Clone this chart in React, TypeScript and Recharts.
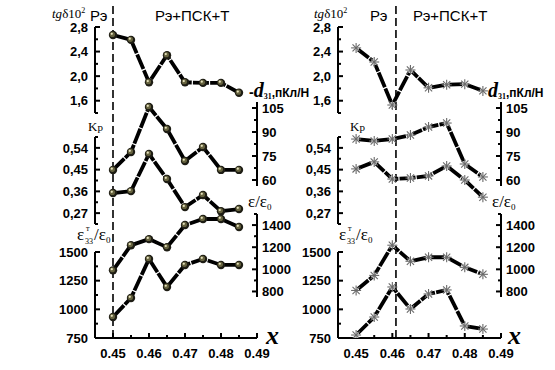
import React from 'react';
import { LineChart, Line, XAxis, YAxis, ReferenceLine } from 'recharts';

const W = 555;
const H = 370;

// x categories (composition x)
const xValues = [0.45, 0.455, 0.46, 0.465, 0.47, 0.475, 0.48, 0.485];
const xTicks = [0.45, 0.455, 0.46, 0.465, 0.47, 0.475, 0.48, 0.485, 0.49];
const xMajor = [0.45, 0.46, 0.47, 0.48, 0.49];

// left panel series (spheres)
const tgLeft = [2.67, 2.59, 1.9, 2.34, 1.9, 1.89, 1.89, 1.73];
const d31Left = [66.3, 77.5, 105.6, 91.9, 71.9, 80.6, 66.3, 66.3];
const kpLeft = [0.353, 0.361, 0.515, 0.411, 0.295, 0.345, 0.278, 0.287];
const epsLeft = [991, 1218, 1273, 1200, 1400, 1455, 1455, 1382];
const eps33Left = [933, 1099, 1439, 1195, 1387, 1439, 1387, 1387];

// right panel series (asterisks)
const tgRight = [2.46, 2.23, 1.53, 2.1, 1.81, 1.86, 1.87, 1.76];
const d31Right = [85.6, 84.4, 85.6, 88.1, 93.1, 95.6, 70.0, 61.9];
const kpRight = [0.453, 0.482, 0.411, 0.415, 0.424, 0.465, 0.407, 0.336];
const epsRight = [809, 945, 1218, 1073, 1109, 1109, 1018, 955];
const eps33Right = [776, 933, 1195, 1003, 1134, 1169, 855, 828];

// phase boundaries
const boundaryLeft = 0.45;
const boundaryRight = 0.461;

// axis ticks
const tgTicks = [1.4, 1.6, 1.8, 2.0, 2.2, 2.4, 2.6, 2.8];
const tgMajor = [1.6, 2.0, 2.4, 2.8];
const kpTicks = [0.225, 0.27, 0.315, 0.36, 0.405, 0.45, 0.495, 0.54, 0.585];
const kpMajor = [0.27, 0.36, 0.45, 0.54];
const d31Ticks = [60, 67.5, 75, 82.5, 90, 97.5, 105];
const d31Major = [60, 75, 90, 105];
const epsTicks = [800, 900, 1000, 1100, 1200, 1300, 1400, 1500];
const epsMajor = [800, 1000, 1200, 1400];
const eps33Ticks = [750, 875, 1000, 1125, 1250, 1375, 1500];
const eps33Major = [750, 1000, 1250, 1500];

const buildRows = (tg: number[], d31: number[], kp: number[], eps: number[], eps33: number[]) =>
  xValues.map((x, i) => ({ x, tg: tg[i], d31: d31[i], kp: kp[i], eps: eps[i], eps33: eps33[i], guide: 0.5 }));

const leftRows = buildRows(tgLeft, d31Left, kpLeft, epsLeft, eps33Left);
const rightRows = buildRows(tgRight, d31Right, kpRight, epsRight, eps33Right);

const AXW = 40;
const TM = 4;
const XH = 25;
const SANS = '"Liberation Sans", Arial, sans-serif';
const SERIF = '"Liberation Serif", "Times New Roman", serif';

const isMajor = (majors: number[], v: number) => majors.some((m) => Math.abs(m - v) < 1e-9);
const comma = (d: number) => (v: number) => v.toFixed(d).replace('.', ',');
const intFmt = (v: number) => String(Math.round(v));

const makeYTick = (side: 'left' | 'right', majors: number[], fmt: (v: number) => string) => (props: any) => {
  const { x, y, payload } = props;
  const v = payload.value;
  const major = isMajor(majors, v);
  const ax = side === 'left' ? x + TM : x - TM;
  const dir = side === 'left' ? 1 : -1;
  const len = major ? 5 : 3;
  return (
    <g>
      <line x1={ax} x2={ax + dir * len} y1={y} y2={y} stroke="#000" strokeWidth={2} />
      {major && (
        <text
          x={side === 'left' ? ax - 7 : ax + 5}
          y={y}
          dy="0.36em"
          textAnchor={side === 'left' ? 'end' : 'start'}
          fontFamily={SANS}
          fontWeight="bold"
          fontSize={13}
          fill="#000"
        >
          {fmt(v)}
        </text>
      )}
    </g>
  );
};

const XTick = (props: any) => {
  const { x, y, payload } = props;
  const v = payload.value;
  const major = isMajor(xMajor, v);
  const ay = y - TM;
  return (
    <g>
      <line x1={x} x2={x} y1={ay} y2={ay - (major ? 5 : 3)} stroke="#000" strokeWidth={2} />
      {major && (
        <text x={x} y={ay + 15} dy="0.36em" textAnchor="middle" fontFamily={SANS} fontWeight="bold" fontSize={13} fill="#000">
          {v.toFixed(2)}
        </text>
      )}
    </g>
  );
};

const Sphere = (p: any) => {
  const { cx, cy } = p;
  if (cx == null || cy == null) return <g key={`s-${p.index}`} />;
  return (
    <g key={`s-${p.index}`}>
      <circle cx={cx} cy={cy} r={4.2} fill="#1e1d14" />
      <circle cx={cx - 0.6} cy={cy - 0.6} r={2.6} fill="#66633f" />
      <circle cx={cx - 1.2} cy={cy - 1.2} r={1.1} fill="#e8e4c0" />
    </g>
  );
};

const Asterisk = (p: any) => {
  const { cx, cy } = p;
  if (cx == null || cy == null) return <g key={`a-${p.index}`} />;
  const r = 5;
  const d = r * 0.72;
  return (
    <g key={`a-${p.index}`} stroke="#6a6a6a" strokeWidth={1.1}>
      <circle cx={cx} cy={cy} r={3} fill="#fff" stroke="none" />
      <line x1={cx - r} x2={cx + r} y1={cy} y2={cy} />
      <line x1={cx} x2={cx} y1={cy - r} y2={cy + r} />
      <line x1={cx - d} x2={cx + d} y1={cy - d} y2={cy + d} />
      <line x1={cx - d} x2={cx + d} y1={cy + d} y2={cy - d} />
    </g>
  );
};

type Panel = { xL: number; xR: number; rows: any[]; marker: 'sphere' | 'asterisk'; boundary: number };

const leftPanel: Panel = { xL: 95, xR: 257, rows: leftRows, marker: 'sphere', boundary: boundaryLeft };
const rightPanel: Panel = { xL: 338, xR: 501, rows: rightRows, marker: 'asterisk', boundary: boundaryRight };

const layer: React.CSSProperties = { position: 'absolute', left: 0, top: 0 };

type SubSpec = {
  key: string;
  side: 'left' | 'right';
  top: number;
  bottom: number;
  domain: [number, number];
  ticks: number[];
  majors: number[];
  fmt: (v: number) => string;
};

const subs: SubSpec[] = [
  { key: 'tg', side: 'left', top: 27, bottom: 113, domain: [1.4, 2.8], ticks: tgTicks, majors: tgMajor, fmt: comma(1) },
  { key: 'd31', side: 'right', top: 102, bottom: 186, domain: [56.25, 108.75], ticks: d31Ticks, majors: d31Major, fmt: intFmt },
  { key: 'kp', side: 'left', top: 137, bottom: 224, domain: [0.225, 0.585], ticks: kpTicks, majors: kpMajor, fmt: comma(2) },
  { key: 'eps', side: 'right', top: 214, bottom: 297, domain: [750, 1500], ticks: epsTicks, majors: epsMajor, fmt: intFmt },
  { key: 'eps33', side: 'left', top: 252, bottom: 338, domain: [750, 1500], ticks: eps33Ticks, majors: eps33Major, fmt: intFmt },
];

const SubChart = ({ panel, spec }: { panel: Panel; spec: SubSpec }) => {
  const margin = {
    top: spec.top,
    bottom: H - spec.bottom,
    left: spec.side === 'left' ? panel.xL - AXW : panel.xL,
    right: spec.side === 'right' ? W - panel.xR - AXW : W - panel.xR,
  };
  return (
    <div style={layer}>
      <LineChart width={W} height={H} data={panel.rows} margin={margin}>
        <XAxis hide type="number" dataKey="x" domain={[0.445, 0.49]} allowDataOverflow />
        <YAxis
          orientation={spec.side}
          width={AXW}
          type="number"
          domain={spec.domain}
          allowDataOverflow
          ticks={spec.ticks}
          interval={0}
          tickSize={0}
          tickMargin={TM}
          tickLine={false}
          axisLine={{ stroke: '#000', strokeWidth: 2 }}
          tick={makeYTick(spec.side, spec.majors, spec.fmt)}
        />
        <Line
          type="linear"
          dataKey={spec.key}
          stroke="#000"
          strokeWidth={3.8}
          strokeDasharray="16 1.2"
          dot={panel.marker === 'sphere' ? Sphere : Asterisk}
          activeDot={false}
          isAnimationActive={false}
        />
      </LineChart>
    </div>
  );
};

const BaseChart = ({ panel }: { panel: Panel }) => (
  <div style={layer}>
    <LineChart
      width={W}
      height={H}
      data={panel.rows}
      margin={{ top: 5, bottom: H - 338 - XH, left: panel.xL, right: W - panel.xR }}
    >
      <XAxis
        type="number"
        dataKey="x"
        domain={[0.445, 0.49]}
        allowDataOverflow
        ticks={xTicks}
        interval={0}
        height={XH}
        tickSize={0}
        tickMargin={TM}
        tickLine={false}
        axisLine={{ stroke: '#000', strokeWidth: 2 }}
        tick={XTick}
      />
      <YAxis hide type="number" domain={[0, 1]} allowDataOverflow />
      <Line dataKey="guide" stroke="none" dot={false} activeDot={false} isAnimationActive={false} />
      <ReferenceLine x={panel.boundary} stroke="#000" strokeWidth={1.6} strokeDasharray="8 4" ifOverflow="visible" />
    </LineChart>
  </div>
);

const PanelLabels = ({ dx, left, reX, reX2 }: { dx: number; left: boolean; reX: number; reX2: number }) => {
  const ex = 77 + dx;
  return (
    <>
      <text x={52 + dx} y={18} fontFamily={SERIF} fontSize={13} fill="#000">
        <tspan fontStyle="italic">tg</tspan>
        <tspan>δ10</tspan>
        <tspan fontSize={8} dy={-5}>2</tspan>
      </text>
      <text x={reX} y={21} fontFamily={SANS} fontSize={15} fill="#000">Рэ</text>
      <text x={reX2} y={21} fontFamily={SANS} fontSize={15} fill="#000">Рэ+ПСК+Т</text>
      <text x={left ? 249 : 488} y={97} fontFamily={SERIF} fontWeight="bold" fill="#000">
        {left && <tspan fontFamily={SANS} fontSize={14}>-</tspan>}
        <tspan fontStyle="italic" fontSize={20}>d</tspan>
        <tspan fontSize={8} dy={2}>31</tspan>
        <tspan fontFamily={SANS} fontSize={12} dy={-2}>,пКл/Н</tspan>
      </text>
      <text x={88 + dx} y={131} fontFamily={SERIF} fontSize={13} fill="#000">
        K<tspan fontSize={11}>р</tspan>
      </text>
      <text x={left ? 248 : 492} y={207} fontFamily={SERIF} fontSize={17} fill="#000">
        ε/ε<tspan fontSize={9} dy={3}>0</tspan>
      </text>
      <text x={ex} y={240} fontFamily={SERIF} fontSize={17} fill="#000">ε</text>
      <text x={ex + 8} y={244} fontFamily={SERIF} fontSize={8} fill="#000">33</text>
      <text x={ex + 9} y={231} fontFamily={SERIF} fontSize={8} fill="#000">т</text>
      <text x={ex + 17} y={240} fontFamily={SERIF} fontSize={17} fill="#000">
        /ε<tspan fontSize={9} dy={3}>0</tspan>
      </text>
      <text x={left ? 266 : 508} y={344} fontFamily={SERIF} fontStyle="italic" fontWeight="bold" fontSize={26} fill="#000">x</text>
    </>
  );
};

export default function App() {
  return (
    <div style={{ position: 'absolute', left: 0, top: 0, width: W, height: H, background: '#fff', overflow: 'hidden' }}>
      <BaseChart panel={leftPanel} />
      <BaseChart panel={rightPanel} />
      {subs.map((s) => (
        <SubChart key={`L-${s.key}`} panel={leftPanel} spec={s} />
      ))}
      {subs.map((s) => (
        <SubChart key={`R-${s.key}`} panel={rightPanel} spec={s} />
      ))}
      <svg width={W} height={H} style={{ ...layer, pointerEvents: 'none' }}>
        <PanelLabels dx={0} left={true} reX={90} reX2={155} />
        <PanelLabels dx={262} left={false} reX={370} reX2={413} />
      </svg>
    </div>
  );
}
